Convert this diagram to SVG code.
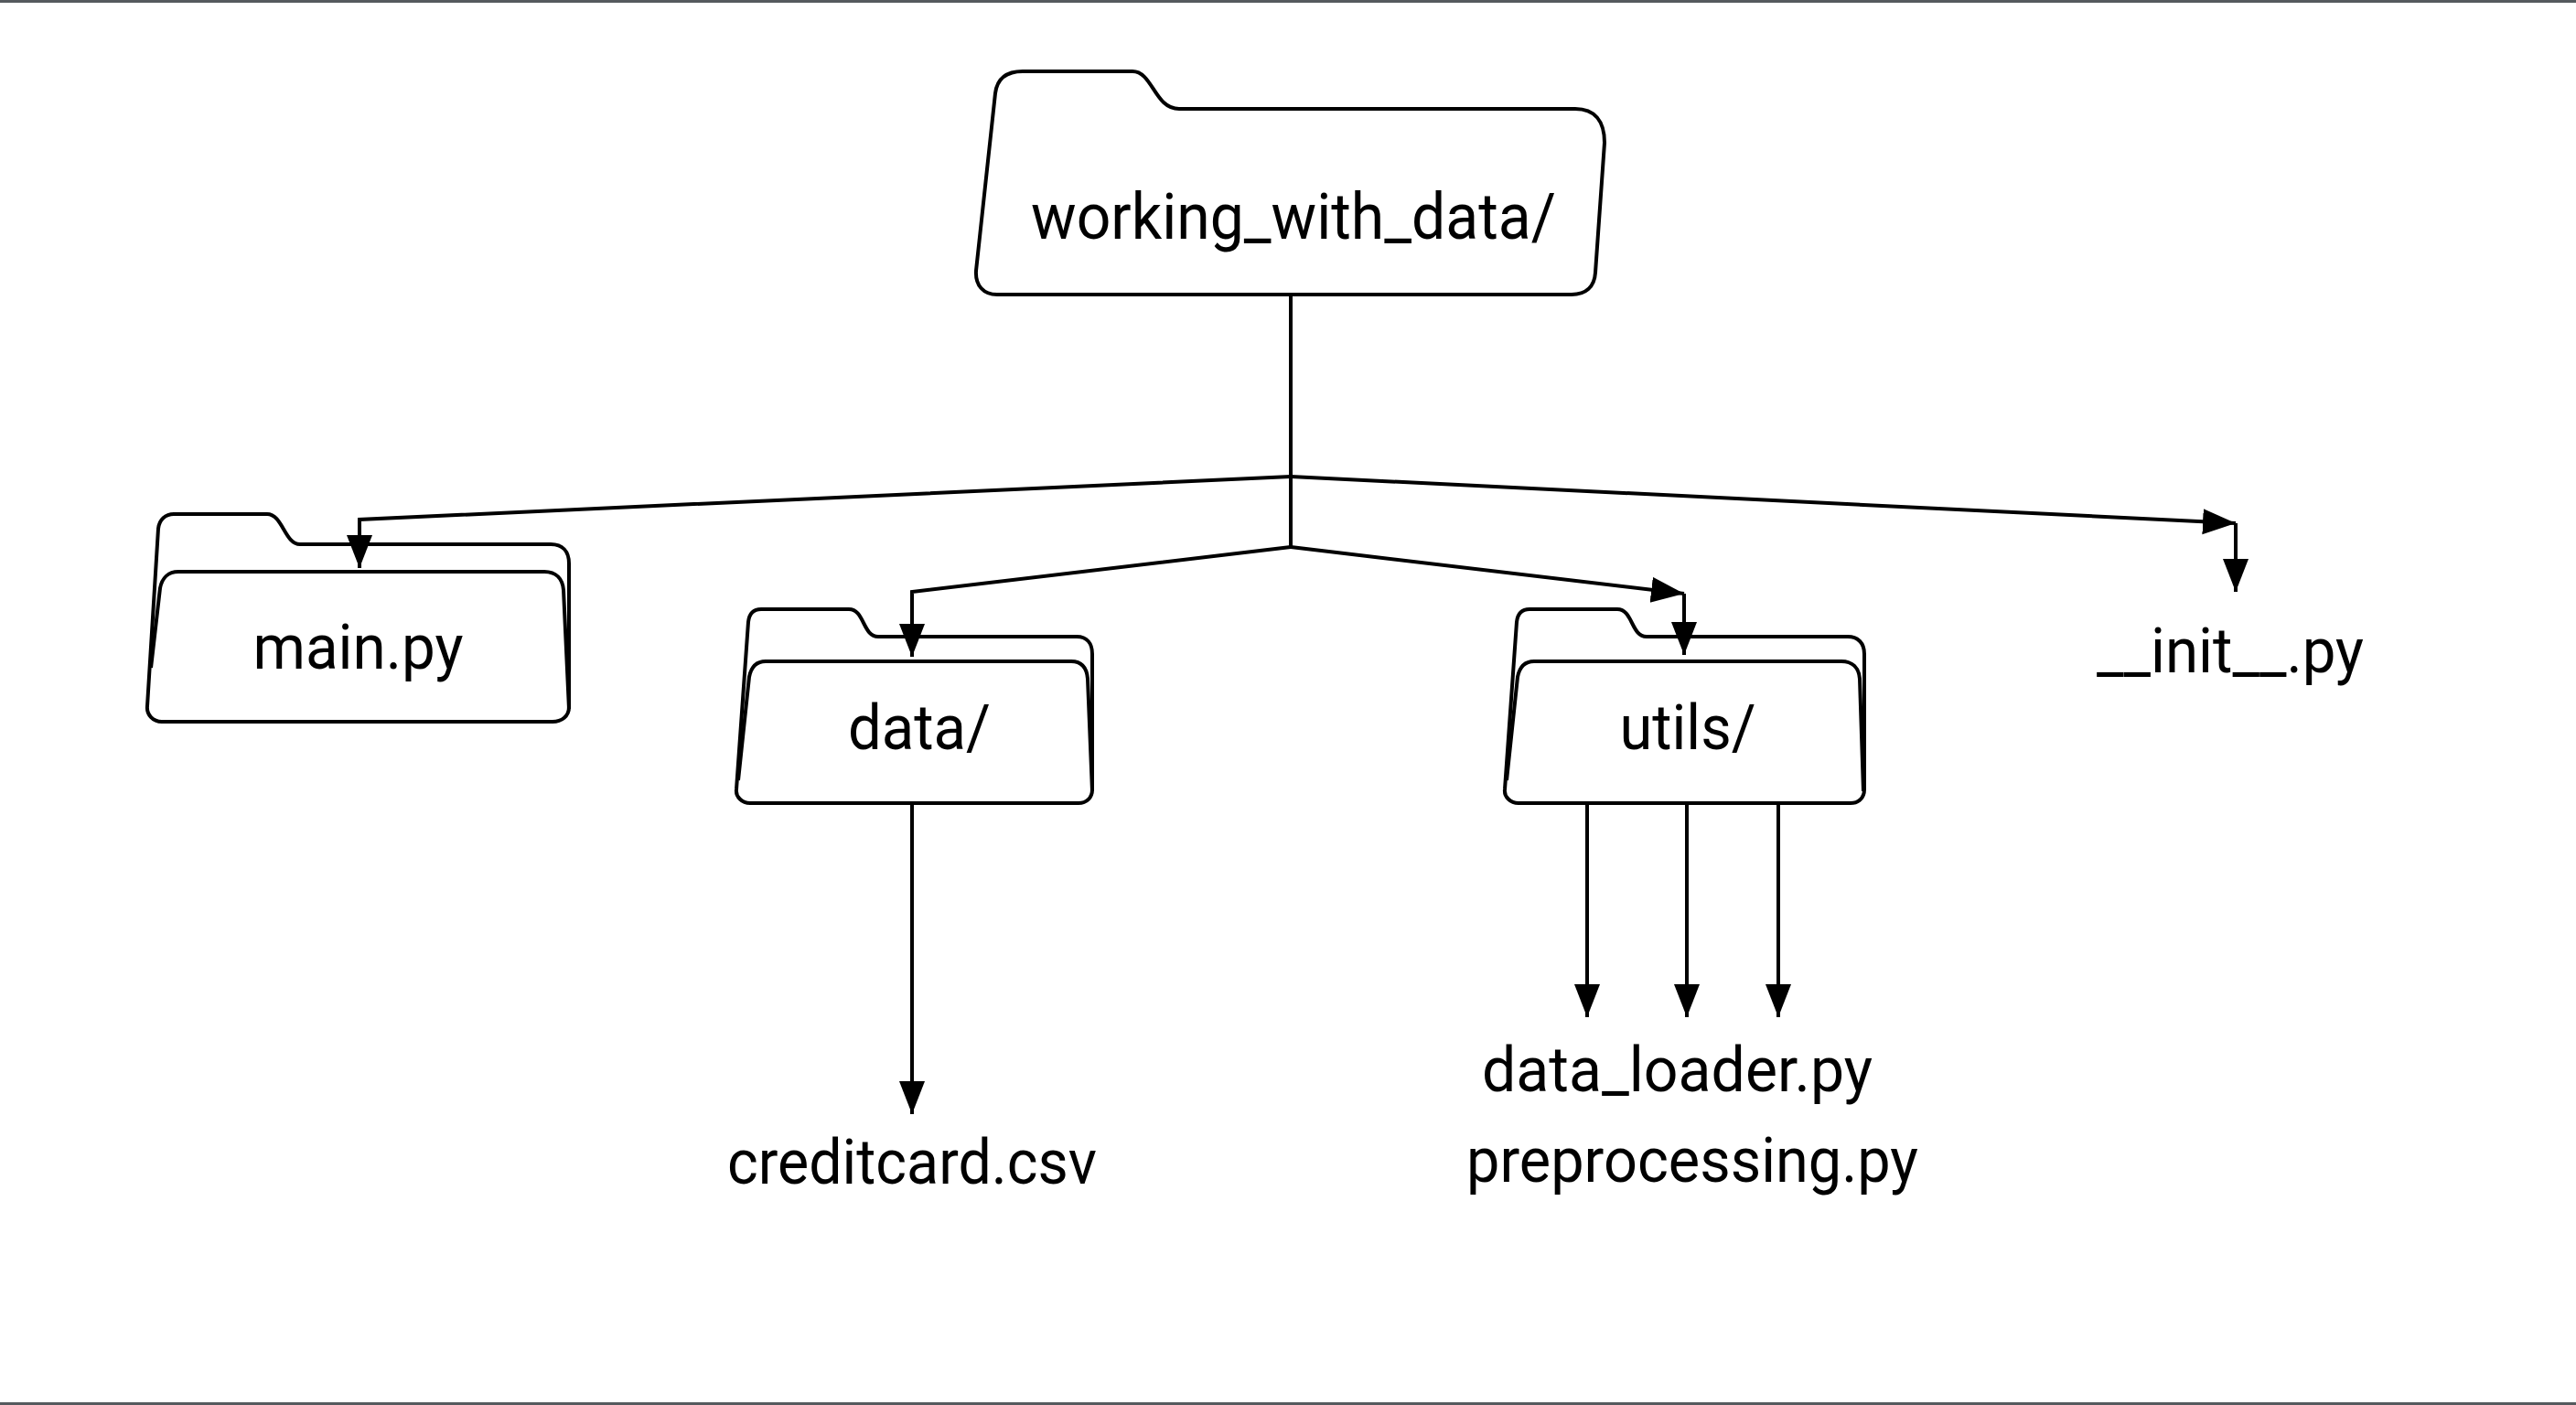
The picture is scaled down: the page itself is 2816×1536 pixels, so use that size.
<svg xmlns="http://www.w3.org/2000/svg" width="2816" height="1536" viewBox="0 0 2816 1536">
<style>
.f{fill:#fff;stroke:#000;stroke-width:4;stroke-linejoin:round}
.i{fill:none;stroke:#000;stroke-width:4;stroke-linejoin:round}
.c{fill:none;stroke:#000;stroke-width:4;stroke-linejoin:miter}
.t{font-family:Roboto,"Liberation Sans",sans-serif;font-size:68px;fill:#000;text-anchor:middle}
</style>
<defs>
<marker id="a" markerUnits="userSpaceOnUse" markerWidth="37" markerHeight="30" refX="36" refY="14" orient="auto"><path d="M0 0L36 14L0 28Z" fill="#000"/></marker>
</defs>
<rect width="2816" height="1536" fill="#fff"/>
<rect id="border-top" x="0" y="0" width="2816" height="3" fill="#555a5e"/>
<rect id="border-bottom" x="0" y="1533" width="2816" height="3" fill="#555a5e"/>
<g id="root">
<path class="f" d="M1088 102C1090 86 1100 78 1118 78H1238C1260 78 1262 119 1289 119H1722C1743 119 1754 132 1754 156L1744 298C1743 314 1733 322 1718 322H1090C1075 322 1066 312 1067 296Z"/>
<text class="t" x="1414" y="261" style="font-size:70px" textLength="574" lengthAdjust="spacingAndGlyphs">working_with_data/</text>
</g>
<g id="main">
<path class="f" d="M173 578C174 568 181 562 190 562H292C309 562 311 595 328 595H602C615 595 622 603 622 616V773C622 783 614 789 604 789H177C167 789 160 781 161 772Z"/>
<path class="i" d="M165 730L175 643C177 632 184 625 195 625H595C608 625 615 633 616 645L622 775"/>
<text class="t" x="391.500" y="731" textLength="230" lengthAdjust="spacingAndGlyphs">main.py</text>
</g>
<g id="data">
<path class="f" d="M818 680C819 671 824 666 832 666H928C945 666 943 696 960 696H1177C1188 696 1194 703 1194 715V863C1194 872 1188 878 1179 878H820C811 878 804 871 805 863Z"/>
<path class="i" d="M807 853L819 740C821 730 826 723 837 723H1171C1182 723 1188 730 1189 742L1194 865"/>
<text class="t" x="1005" y="819" textLength="156" lengthAdjust="spacingAndGlyphs">data/</text>
</g>
<g id="utils">
<path class="f" d="M1658 680C1659 671 1664 666 1672 666H1768C1785 666 1783 696 1800 696H2020C2031 696 2038 703 2038 715V863C2038 872 2032 878 2023 878H1660C1651 878 1644 871 1645 863Z"/>
<path class="i" d="M1647 853L1659 740C1661 730 1666 723 1677 723H2013C2025 723 2032 730 2033 742L2037 865"/>
<text class="t" x="1845" y="819" textLength="149" lengthAdjust="spacingAndGlyphs">utils/</text>
</g>
<g id="init"><text class="t" x="2438" y="735" textLength="292" lengthAdjust="spacingAndGlyphs">__init__.py</text></g>
<g id="creditcard"><text class="t" x="997" y="1294" textLength="404" lengthAdjust="spacingAndGlyphs">creditcard.csv</text></g>
<g id="data_loader"><text class="t" x="1833.500" y="1193" textLength="427" lengthAdjust="spacingAndGlyphs">data_loader.py</text></g>
<g id="preprocessing"><text class="t" x="1850" y="1292" textLength="494" lengthAdjust="spacingAndGlyphs">preprocessing.py</text></g>
<g id="connectors">
<path class="c" d="M1411 322V598"/>
<path class="c" d="M1411 521L393 568V621" marker-end="url(#a)"/>
<path class="c" d="M1411 598L997 647V718" marker-end="url(#a)"/>
<path class="c" d="M1411 598L1841 649" marker-end="url(#a)"/>
<path class="c" d="M1841 649V716" marker-end="url(#a)"/>
<path class="c" d="M1411 521L2444 572" marker-end="url(#a)"/>
<path class="c" d="M2444 572V647" marker-end="url(#a)"/>
<path class="c" d="M997 878V1218" marker-end="url(#a)"/>
<path class="c" d="M1735 878V1112" marker-end="url(#a)"/>
<path class="c" d="M1844 878V1112" marker-end="url(#a)"/>
<path class="c" d="M1944 878V1112" marker-end="url(#a)"/>
</g>
</svg>
